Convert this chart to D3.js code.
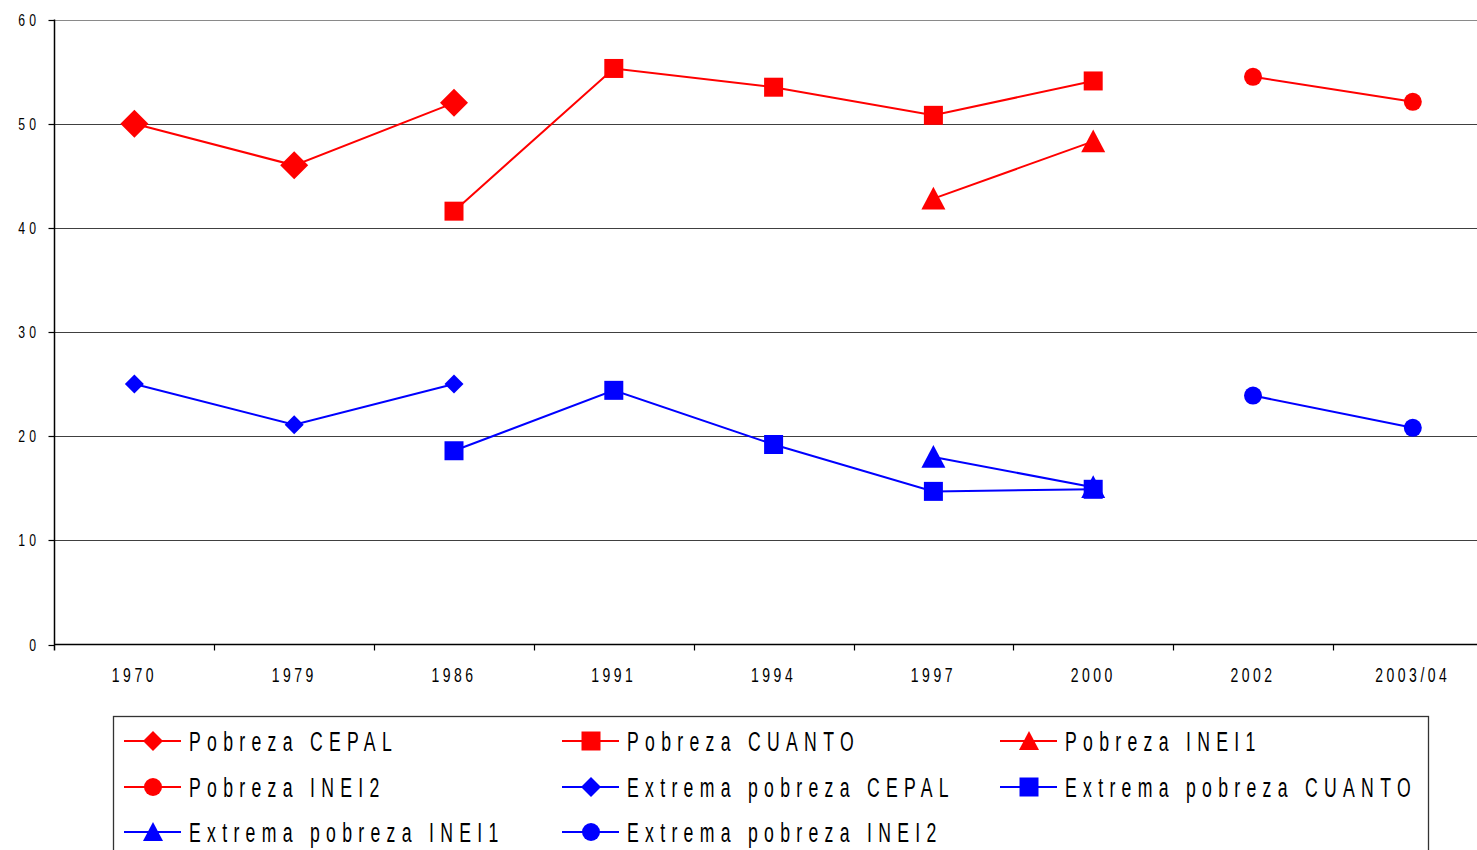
<!DOCTYPE html>
<html><head><meta charset="utf-8">
<script src="https://cdn.jsdelivr.net/npm/d3@7"></script>
<style>
body{margin:0;background:#fff}
svg{display:block}
text{font-family:"Liberation Sans",Arial,sans-serif;fill:#000}
</style></head>
<body><svg width="1477" height="850"></svg>
<script>
const categories=["1970","1979","1986","1991","1994","1997","2000","2002","2003/04"];
const yTicks=[0,10,20,30,40,50,60];
const seriesNames=["Pobreza CEPAL","Pobreza CUANTO","Pobreza INEI1","Pobreza INEI2","Extrema pobreza CEPAL","Extrema pobreza CUANTO","Extrema pobreza INEI1","Extrema pobreza INEI2"];
const pobrezaCEPAL=[50.0,46.0,52.0,null,null,null,null,null,null];
const pobrezaCUANTO=[null,null,41.6,55.3,53.5,50.8,54.1,null,null];
const pobrezaINEI1=[null,null,null,null,null,42.8,48.3,null,null];
const pobrezaINEI2=[null,null,null,null,null,null,null,54.5,52.1];
const extremaCEPAL=[25.0,21.1,25.0,null,null,null,null,null,null];
const extremaCUANTO=[null,null,18.6,24.4,19.2,14.7,14.9,null,null];
const extremaINEI1=[null,null,null,null,null,18.0,15.1,null,null];
const extremaINEI2=[null,null,null,null,null,null,null,23.9,20.8];
const seriesValues=[pobrezaCEPAL,pobrezaCUANTO,pobrezaINEI1,pobrezaINEI2,extremaCEPAL,extremaCUANTO,extremaINEI1,extremaINEI2];
const seriesColors=["#ff0000","#ff0000","#ff0000","#ff0000","#0000ff","#0000ff","#0000ff","#0000ff"];
const seriesShapes=["diamond","square","triangle","circle","diamond","square","triangle","circle"];
const seriesSizes=[28,19,24,18,19,19,24,18];

const svg=d3.select("svg");
const left=54.5, bandW=159.8;
const x=d3.scaleBand().domain(categories).range([left,left+bandW*categories.length]).padding(0);
const y=d3.scaleLinear().domain([0,60]).range([644.5,19.5]);

function shape(type,s){
  const h=s/2;
  if(type==="diamond") return `M0,${-h}L${h},0L0,${h}L${-h},0Z`;
  if(type==="square") return `M${-h},${-h}H${h}V${h}H${-h}Z`;
  if(type==="triangle") return `M0,${-h}L${h},${h*0.9}L${-h},${h*0.9}Z`;
  return d3.arc()({innerRadius:0,outerRadius:h,startAngle:0,endAngle:2*Math.PI});
}

// gridlines
svg.append("g").selectAll("line").data(yTicks.filter(d=>d>0)).join("line")
  .attr("x1",left).attr("x2",1477).attr("y1",d=>Math.round(y(d))+0.5).attr("y2",d=>Math.round(y(d))+0.5)
  .attr("stroke",d=>d===60?"#8a8a8a":"#404040").attr("stroke-width",1.2);

// y axis
svg.append("line").attr("x1",left).attr("x2",left).attr("y1",y(60)).attr("y2",y(0)+6).attr("stroke","#000").attr("stroke-width",1.5);
svg.append("g").selectAll("line").data(yTicks).join("line")
  .attr("x1",left-6).attr("x2",left).attr("y1",d=>Math.round(y(d))+0.5).attr("y2",d=>Math.round(y(d))+0.5).attr("stroke","#000").attr("stroke-width",1.2);
svg.append("g").selectAll("text").data(yTicks).join("text")
  .attr("transform",d=>`translate(${left-14},${y(d)+6}) scale(0.72,1)`)
  .attr("text-anchor","end").attr("font-size",17).attr("letter-spacing",6)
  .text(d=>String(d));

// x axis
svg.append("line").attr("x1",left).attr("x2",1477).attr("y1",y(0)).attr("y2",y(0)).attr("stroke","#000").attr("stroke-width",1.5);
svg.append("g").selectAll("line").data(categories.slice(1)).join("line")
  .attr("x1",d=>Math.round(x(d))+0.5).attr("x2",d=>Math.round(x(d))+0.5).attr("y1",y(0)).attr("y2",y(0)+6).attr("stroke","#000").attr("stroke-width",1.2);
svg.append("g").selectAll("text").data(categories).join("text")
  .attr("transform",d=>`translate(${x(d)+x.bandwidth()/2},682) scale(0.7,1)`)
  .attr("text-anchor","middle").attr("font-size",20).attr("letter-spacing",5)
  .text(d=>d);

// series
const line=d3.line().defined(d=>d.v!==null).x(d=>x(d.c)+x.bandwidth()/2).y(d=>y(d.v));
seriesValues.forEach((vals,i)=>{
  const pts=categories.map((c,j)=>({c,v:vals[j]}));
  const g=svg.append("g");
  g.append("path").attr("d",line(pts)).attr("fill","none").attr("stroke",seriesColors[i]).attr("stroke-width",2);
  g.selectAll("path.m").data(pts.filter(d=>d.v!==null)).join("path").attr("class","m")
    .attr("transform",d=>`translate(${x(d.c)+x.bandwidth()/2},${y(d.v)})`)
    .attr("d",shape(seriesShapes[i],seriesSizes[i])).attr("fill",seriesColors[i]);
});

// legend
svg.append("rect").attr("x",113.5).attr("y",716.5).attr("width",1315).attr("height",200)
  .attr("fill","none").attr("stroke","#333").attr("stroke-width",1.3);
const colX=[124,562,1000], rowY=[741,787,832];
const legendShapeSizes=[20,19,20,18,20,19,20,18];
seriesNames.forEach((n,i)=>{
  const cx=colX[i%3], cy=rowY[Math.floor(i/3)];
  const g=svg.append("g");
  g.append("line").attr("x1",cx).attr("x2",cx+57).attr("y1",cy).attr("y2",cy).attr("stroke",seriesColors[i]).attr("stroke-width",2);
  g.append("path").attr("transform",`translate(${cx+29},${cy})`).attr("d",shape(seriesShapes[i],legendShapeSizes[i])).attr("fill",seriesColors[i]);
  g.append("text").attr("transform",`translate(${cx+65},${cy+10}) scale(0.63,1)`)
    .attr("font-size",28).attr("letter-spacing",10).text(n);
});
</script></body></html>
